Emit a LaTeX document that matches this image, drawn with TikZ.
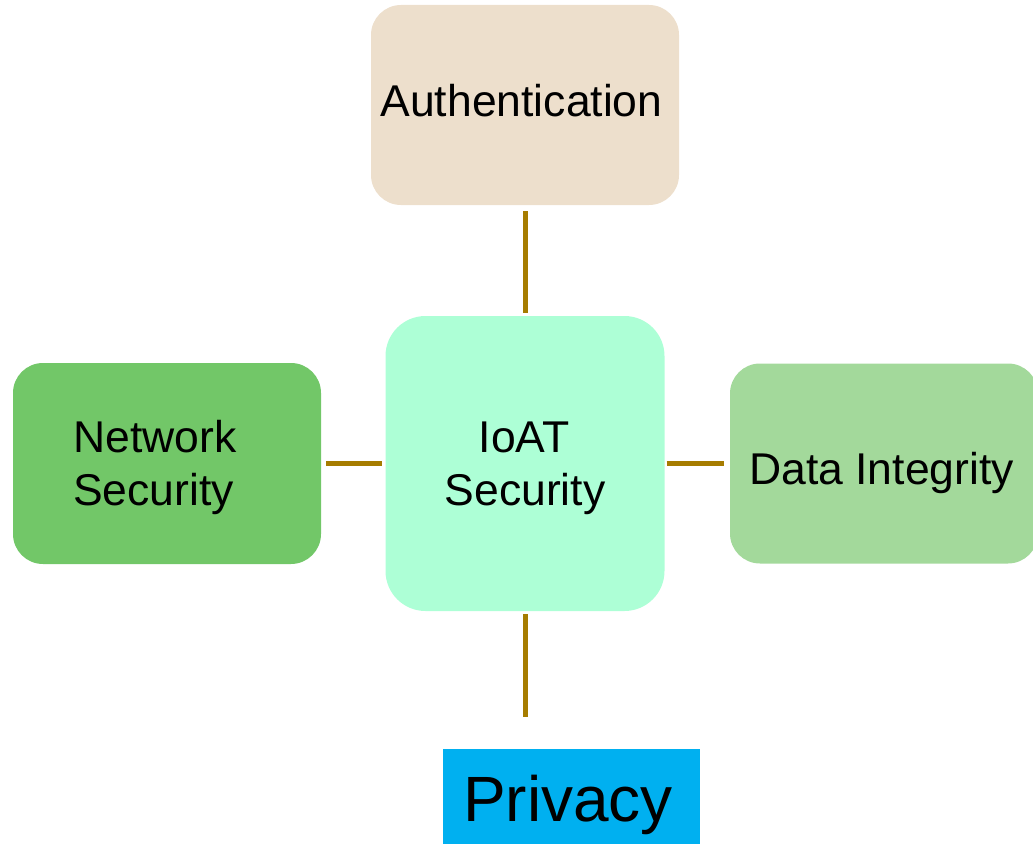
\documentclass[tikz,border=0pt]{standalone}
\usepackage{fontspec}
\setmainfont{Liberation Sans}
\definecolor{authfill}{HTML}{EDDFCC}
\definecolor{corefill}{HTML}{ADFFD6}
\definecolor{netfill}{HTML}{72C768}
\definecolor{datafill}{HTML}{A3D99B}
\definecolor{privfill}{HTML}{00B0F0}
\definecolor{linkcol}{HTML}{A67C00}
\tikzset{
  card/.style={rectangle, rounded corners=#1, draw=none, inner sep=0pt},
  card/.default=30pt,
  label44/.style={inner sep=0pt, font=\fontsize{44.5}{53}\selectfont},
  link/.style={draw=linkcol, line width=5pt, line cap=butt}
}
\begin{document}
\begin{tikzpicture}[x=1pt, y=-1pt]
\useasboundingbox (0,0) rectangle (1033,843);
\begin{scope}
\clip (0,0) rectangle (1033,843);
% boxes
\node[card, fill=authfill, minimum width=308pt, minimum height=200pt] (auth) at (525,105) {};
\node[card=40pt, fill=corefill, minimum width=279pt, minimum height=295pt] (core) at (525,463.5) {};
\node[card, fill=netfill, minimum width=308pt, minimum height=201pt] (net) at (167,463.5) {};
\node[card, fill=datafill, minimum width=308pt, minimum height=200pt] (data) at (884,463.5) {};
\node[rectangle, fill=privfill, inner sep=0pt, minimum width=257pt, minimum height=96pt] (priv) at (571.5,797) {};
\end{scope}
% texts
\node[label44, anchor=base] (authT) at (521.5,116) {Authentication};
\node[label44, anchor=base] (coreT1) at (524,452) {IoAT};
\node[label44, anchor=base] (coreT2) at (525,505) {Security};
\node[label44, anchor=base west] (netT1) at (73,452) {Network};
\node[label44, anchor=base west] (netT2) at (73,505) {Security};
\node[label44, anchor=base west] (dataT) at (749,484) {Data Integrity};
\node[inner sep=0pt, font=\fontsize{64}{76}\selectfont, anchor=base] (privT) at (568,821) {Privacy};
% connectors
\draw[link, shorten <=6pt, shorten >=3pt] (auth.south) -- (core.north);
\draw[link, shorten <=5pt, shorten >=3pt] (net.east) -- (core.west);
\draw[link, shorten <=2pt, shorten >=6pt] (core.east) -- (data.west);
\draw[link, shorten <=3pt, shorten >=32pt] (core.south) -- (priv.north -| core.south);
\end{tikzpicture}
\end{document}
